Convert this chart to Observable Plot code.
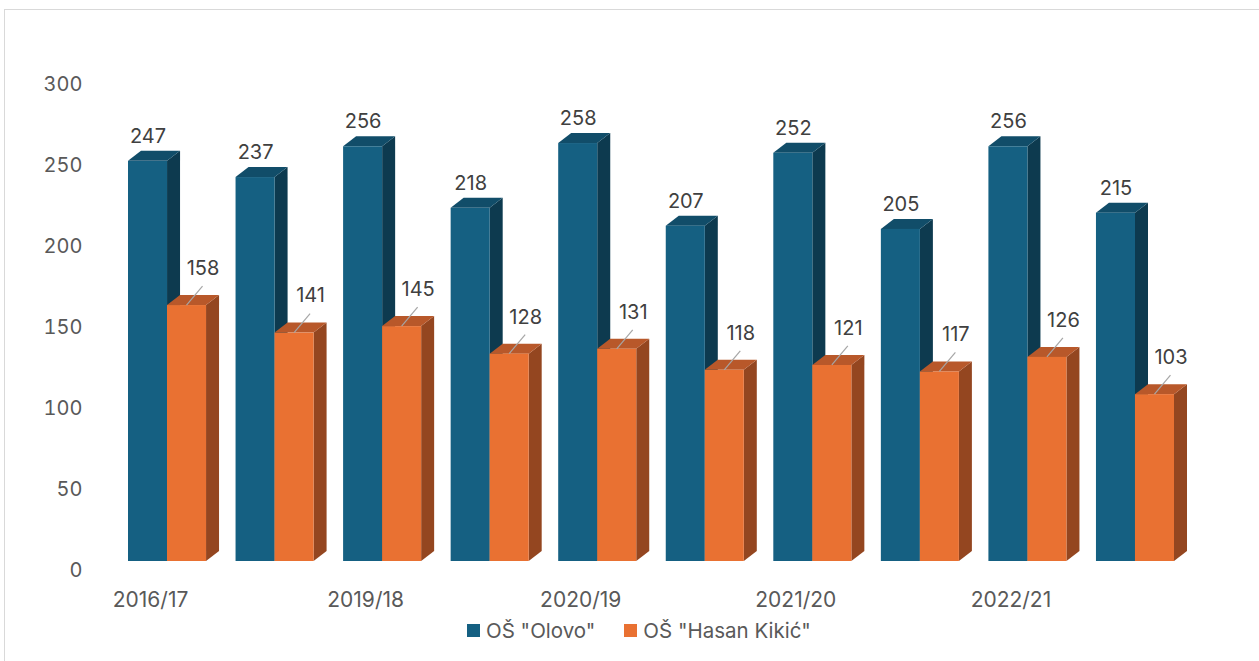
<!DOCTYPE html>
<html>
<head>
<meta charset="utf-8">
<script src="https://cdn.jsdelivr.net/npm/d3@7"></script>
<script src="https://cdn.jsdelivr.net/npm/@observablehq/plot@0.6"></script>
<style>
  html, body { margin: 0; padding: 0; background: #fff; overflow: hidden; }
  body { width: 1259px; height: 661px; position: relative; font-family: Inter, "Noto Sans", sans-serif; }
  #frame { position: absolute; left: 4px; top: 9px; width: 1300px; height: 700px;
           border-left: 1px solid #d9d9d9; border-top: 1px solid #d9d9d9; box-sizing: border-box; }
  #chart { position: absolute; left: 0; top: 0; }
  #legend { position: absolute; left: 467px; top: 618px; display: flex; align-items: center;
            font-size: 20.5px; color: #595959; white-space: nowrap; }
  .item { display: flex; align-items: center; margin-right: 29px; }
  .sw { width: 13px; height: 13px; margin-right: 6px; }
</style>
</head>
<body>
<div id="frame"></div>
<div id="chart"></div>
<div id="legend"></div>
<script>
// ---- data ----
const tickLabels = ["2016/17", "", "2019/18", "", "2020/19", "", "2021/20", "", "2022/21", ""];
const seriesNames = ["OŠ \"Olovo\"", "OŠ \"Hasan Kikić\""];
const olovo      = [247, 237, 256, 218, 258, 207, 252, 205, 256, 215];
const hasanKikic = [158, 141, 145, 128, 131, 118, 121, 117, 126, 103];
const yTicks = [0, 50, 100, 150, 200, 250, 300];

// ---- style ----
const colors = {
  front: ["#156082", "#e97132"],
  top:   ["#114d69", "#b8582a"],
  side:  ["#0d3a4f", "#944620"]
};
const DEPTH_X = 13, DEPTH_Y = 10;
const HALF = 39;

const blueRows = olovo.map((v, i) => ({ i, value: v }));
const orangeRows = hasanKikic.map((v, i) => ({ i, value: v }));

const chart = Plot.plot({
  width: 1259,
  height: 615,
  marginLeft: 128,
  marginRight: 85,
  marginTop: 75,
  marginBottom: 54,
  style: { fontFamily: "Inter, 'Noto Sans', sans-serif", fontSize: "20px", background: "transparent", overflow: "visible" },
  x: { type: "band", domain: d3.range(tickLabels.length), paddingInner: 0.2744, paddingOuter: 0, round: false },
  y: { domain: [0, 300] },
  marks: [
    Plot.axisY({ ticks: yTicks, tickSize: 0, tickPadding: 46, dy: 9, fill: "#595959", label: null, fontSize: 20 }),
    Plot.axisX({ tickSize: 0, tickPadding: 31, dx: -17, tickFormat: i => tickLabels[i], fill: "#595959", label: null, fontSize: 21 }),
    Plot.barY(blueRows, { x: "i", y: "value", fill: colors.front[0], insetRight: HALF, className: "bars-0" }),
    Plot.barY(orangeRows, { x: "i", y: "value", fill: colors.front[1], insetLeft: HALF, className: "bars-1" }),
    Plot.text(blueRows, { x: "i", y: "value", text: d => String(d.value), dx: -HALF / 2, dy: -25, fill: "#404040", fontSize: 20 }),
    Plot.text(orangeRows, { x: "i", y: "value", text: d => String(d.value), dx: HALF / 2 + 16, dy: -37, fill: "#404040", fontSize: 20 })
  ]
});
document.getElementById("chart").appendChild(chart);

// ---- 3D faces derived from the rects Plot drew ----
const svg = d3.select(chart);
[0, 1].forEach(s => {
  svg.selectAll(`.bars-${s} rect`).each(function () {
    const r = d3.select(this);
    const x = +r.attr("x"), y = +r.attr("y"), w = +r.attr("width"), h = +r.attr("height");
    const parent = this.parentNode;
    const side = document.createElementNS("http://www.w3.org/2000/svg", "polygon");
    side.setAttribute("points", [[x + w, y], [x + w + DEPTH_X, y - DEPTH_Y], [x + w + DEPTH_X, y + h - DEPTH_Y], [x + w, y + h]].join(" "));
    side.setAttribute("fill", colors.side[s]);
    const top = document.createElementNS("http://www.w3.org/2000/svg", "polygon");
    top.setAttribute("points", [[x, y], [x + DEPTH_X, y - DEPTH_Y], [x + w + DEPTH_X, y - DEPTH_Y], [x + w, y]].join(" "));
    top.setAttribute("fill", colors.top[s]);
    parent.insertBefore(side, this);
    parent.insertBefore(top, this);
    if (s === 1) {
      // leader line from the bar's top to its label
      const cx = x + w / 2;
      const line = document.createElementNS("http://www.w3.org/2000/svg", "line");
      line.setAttribute("x1", cx); line.setAttribute("y1", y);
      line.setAttribute("x2", cx + 16); line.setAttribute("y2", y - 19);
      line.setAttribute("stroke", "#a6a6a6"); line.setAttribute("stroke-width", 1.2);
      chart.appendChild(line);
    }
  });
});

// ---- legend ----
const legend = d3.select("#legend");
seriesNames.forEach((name, s) => {
  const item = legend.append("div").attr("class", "item");
  item.append("div").attr("class", "sw").style("background", colors.front[s]);
  item.append("span").text(name);
});
</script>
</body>
</html>
